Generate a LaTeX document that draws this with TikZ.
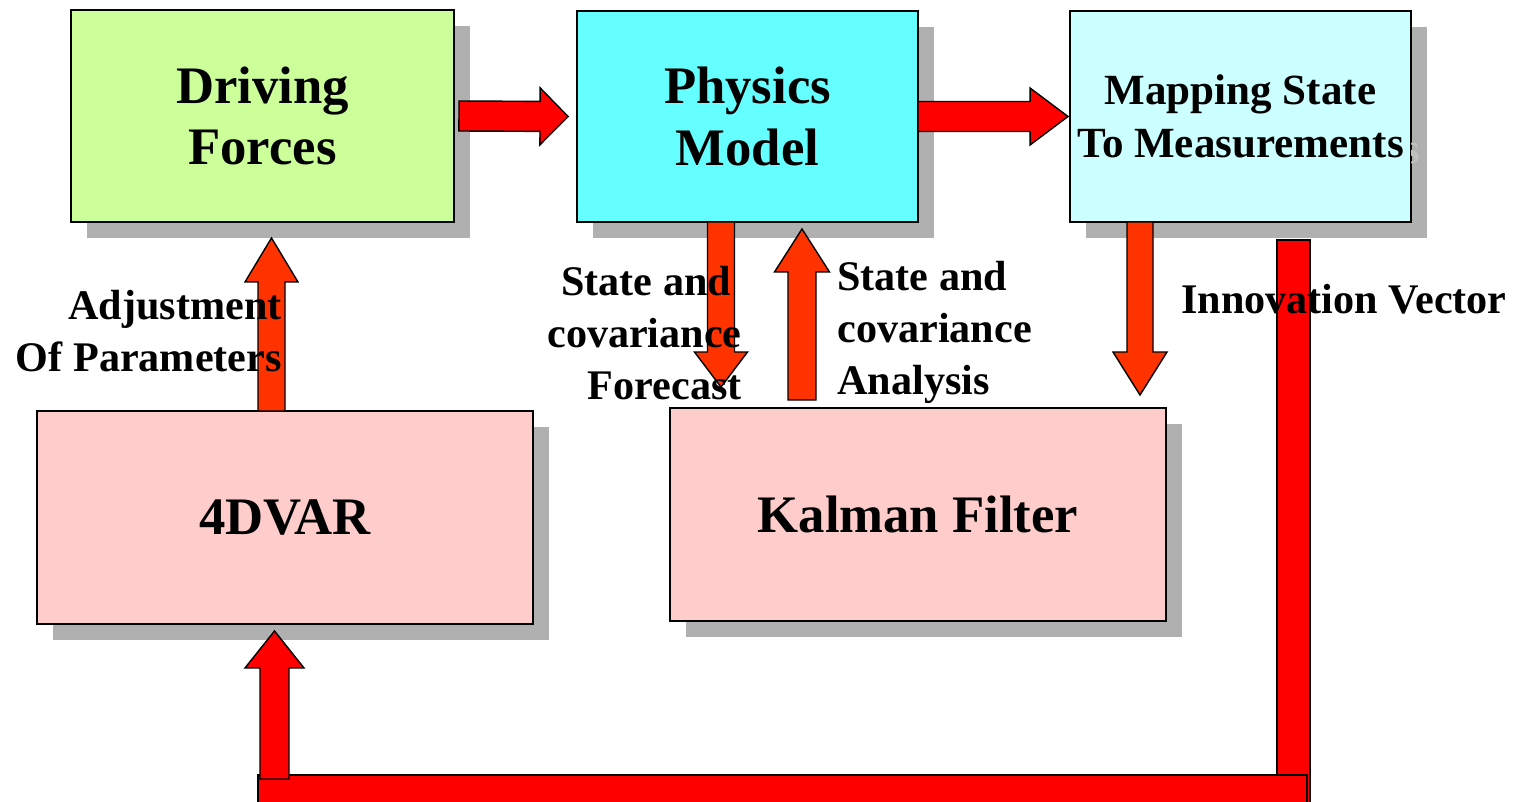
\documentclass[tikz,border=0pt]{standalone}
\usepackage{fontspec}
\setmainfont{Liberation Serif}
\usetikzlibrary{calc,shadows}

\definecolor{drivegreen}{HTML}{CCFF99}
\definecolor{physcyan}{HTML}{66FFFF}
\definecolor{mapcyan}{HTML}{CCFFFF}
\definecolor{filterpink}{HTML}{FFCCCC}
\definecolor{shadowgray}{HTML}{B0B0B0}
\definecolor{ghostgray}{HTML}{C0C0C0}
\definecolor{flowred}{HTML}{FF0000}
\definecolor{floworange}{HTML}{FF3300}

% fill, shaft half width, head half width, head length, from, to
\newcommand\blockarrow[6]{%
\coordinate (ba-s) at #5;
\coordinate (ba-e) at #6;
\coordinate (ba-b) at ($(ba-e)!#4!(ba-s)$);
\filldraw[fill=#1,draw=black,line width=0.8pt]
	($(ba-s)!#2!90:(ba-e)$) -- ($(ba-b)!#2!90:(ba-e)$) -- ($(ba-b)!#3!90:(ba-e)$)
	-- (ba-e) -- ($(ba-b)!#3!-90:(ba-e)$) -- ($(ba-b)!#2!-90:(ba-e)$)
	-- ($(ba-s)!#2!-90:(ba-e)$) -- cycle;}

\tikzset{
	box/.style={draw=black,line width=0.8pt,outer sep=0pt,align=center,
		font=\bfseries\fontsize{30}{35}\selectfont,
		drop shadow={shadow xshift=0.32cm,shadow yshift=-0.32cm,fill=shadowgray,opacity=1}},
	lbl/.style={inner sep=0pt,font=\bfseries\fontsize{24}{29.5}\selectfont}
}

\begin{document}
\begin{tikzpicture}[x=0.02cm,y=-0.02cm]
\useasboundingbox (0,0) rectangle (1524,801);
\node[box,fill=drivegreen,minimum width=7.66cm,minimum height=4.24cm] (drive) at (262.5,116) {Driving\\Forces};
\node[box,fill=physcyan,minimum width=6.82cm,minimum height=4.22cm] (phys) at (747.5,116.5) {Physics\\Model};
\node[box,fill=mapcyan,minimum width=6.82cm,minimum height=4.22cm,font=\bfseries\fontsize{24.5}{30}\selectfont] (map) at (1240.5,116.5) {Mapping State\\To Measurements};
\node[box,fill=filterpink,minimum width=9.92cm,minimum height=4.26cm] (var) at (285,517.5) {4DVAR};
\node[box,fill=filterpink,minimum width=9.92cm,minimum height=4.26cm] (kal) at (918,514.5) {Kalman Filter};
\begin{scope}
\clip ($(map.north east)+(1,0)$) rectangle ($(map.south east)+(20,0)$);
\node[lbl,anchor=base west,text=ghostgray,font=\bfseries\fontsize{24.5}{30}\selectfont] (ghost) at (1403,163) {s};
\end{scope}

\blockarrow{flowred}{0.3cm}{0.57cm}{0.56cm}{($(drive.east)+(5,0)$)}{($(phys.west)+(-9,0)$)}
\blockarrow{flowred}{0.3cm}{0.57cm}{0.76cm}{(phys.east)}{($(map.west)+(-2,0)$)}
\blockarrow{floworange}{0.27cm}{0.53cm}{0.7cm}{($(phys.south)+(-26.5,0)$)}{($(phys.south |- kal.north)+(-26.5,-21)$)}
\blockarrow{floworange}{0.28cm}{0.55cm}{0.86cm}{($(phys.south |- kal.north)+(54.5,-8)$)}{($(phys.south)+(54.5,7)$)}
\blockarrow{floworange}{0.26cm}{0.54cm}{0.86cm}{($(map.south)+(-100.5,0)$)}{($(map.south |- kal.north)+(-100.5,-13)$)}
\blockarrow{floworange}{0.27cm}{0.53cm}{0.88cm}{($(var.north)+(-13.5,0)$)}{($(drive.south -| var.north)+(-13.5,16)$)}

\coordinate (inno-top) at ($(map.south)+(53,18)$);
\filldraw[fill=flowred,draw=black,line width=0.8pt] ($(inno-top)+(-16.5,0)$) rectangle ($(inno-top)+(16.5,570)$);
\filldraw[fill=flowred,draw=black,line width=0.8pt] ($(var.south)+(-27,151)$) rectangle ($(inno-top)+(13.5,570)$);
\blockarrow{flowred}{0.29cm}{0.59cm}{0.74cm}{($(var.south)+(-10.5,155)$)}{($(var.south)+(-10.5,7)$)}

\node[lbl,align=right,anchor=base east] (adjust) at (282,371) {Adjustment\\Of Parameters};
\node[lbl,align=right,anchor=base east] (forecast) at (742,399) {State and\hspace*{0.25em}\\covariance\\Forecast};
\node[lbl,align=left,anchor=base west] (analysis) at (837,394) {State and\\covariance\\Analysis};
\node[lbl,anchor=base west] (innov) at (1181,313) {Innovation Vector};
\end{tikzpicture}
\end{document}
